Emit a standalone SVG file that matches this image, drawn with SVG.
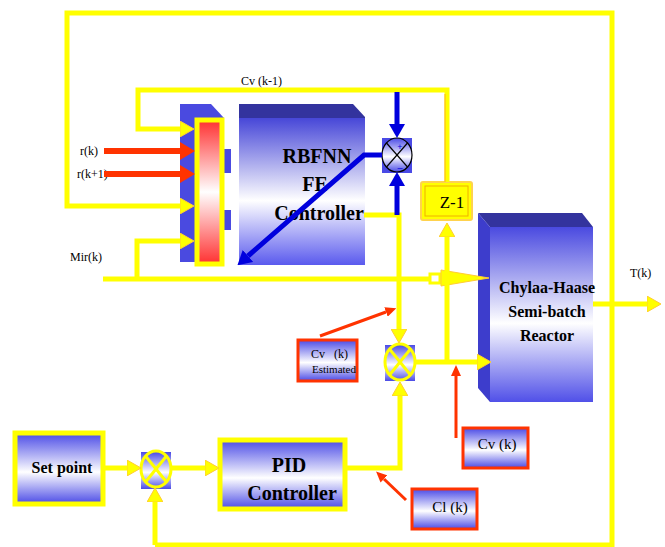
<svg xmlns="http://www.w3.org/2000/svg" width="665" height="547" viewBox="0 0 665 547">
<style>
.y{fill:none;stroke:#ffff00;stroke-width:5;stroke-linejoin:miter}
.r{fill:none;stroke:#ff3300;stroke-width:6}
.rt{fill:none;stroke:#ff3300;stroke-width:3}
.b{fill:none;stroke:#0000dd;stroke-width:5}
.ya{fill:#ffff00;stroke:#ffcc33;stroke-width:1}
.bold{font-weight:bold}
.tag{fill:url(#gBox);stroke:#ff3300;stroke-width:3}
.yb{fill:url(#gBox);stroke:#ffff00;stroke-width:5}
.jsq{fill:url(#gBox)}
</style>
<defs>
<linearGradient id="gBox" x1="0" y1="0" x2="0" y2="1">
<stop offset="0" stop-color="#4a4ae6"/>
<stop offset="0.55" stop-color="#ffffff"/>
<stop offset="1" stop-color="#4a4ae6"/>
</linearGradient>
<linearGradient id="gMain" x1="0" y1="0" x2="0" y2="1">
<stop offset="0" stop-color="#33339e"/>
<stop offset="0.085" stop-color="#33339e"/>
<stop offset="0.09" stop-color="#4848d8"/>
<stop offset="0.6" stop-color="#ffffff"/>
<stop offset="1" stop-color="#5a5aee"/>
</linearGradient>
<linearGradient id="gReac" x1="0" y1="0" x2="0" y2="1">
<stop offset="0" stop-color="#4a4ae0"/>
<stop offset="0.55" stop-color="#ffffff"/>
<stop offset="1" stop-color="#5050e8"/>
</linearGradient>
<linearGradient id="gRed" x1="0" y1="0" x2="0" y2="1">
<stop offset="0" stop-color="#ff3030"/>
<stop offset="0.5" stop-color="#ffffff"/>
<stop offset="1" stop-color="#ff3030"/>
</linearGradient>
<marker id="mY" markerUnits="userSpaceOnUse" viewBox="0 0 14 16" refX="0" refY="8" markerWidth="14" markerHeight="16" orient="auto">
<path d="M0,0 L14,8 L0,16 z" fill="#ffff00" stroke="#ffcc33" stroke-width="1"/>
</marker>
<marker id="mR" markerUnits="userSpaceOnUse" viewBox="0 0 15 18" refX="0" refY="9" markerWidth="15" markerHeight="18" orient="auto">
<path d="M0,0 L15,9 L0,18 z" fill="#ff3300"/>
</marker>
<marker id="mRt" markerUnits="userSpaceOnUse" viewBox="0 0 11 10" refX="0" refY="5" markerWidth="11" markerHeight="10" orient="auto">
<path d="M0,0 L11,5 L0,10 z" fill="#ff3300"/>
</marker>
<marker id="mB" markerUnits="userSpaceOnUse" viewBox="0 0 14 16" refX="0" refY="8" markerWidth="14" markerHeight="16" orient="auto">
<path d="M0,0 L14,8 L0,16 z" fill="#0000dd"/>
</marker>
</defs>
<rect width="665" height="547" fill="#ffffff"/>

<g font-family="Liberation Serif, Times New Roman, serif" fill="#000000">

<g id="input-layer">
<polygon points="180,104 211,104 224,118 224,262 180,262" fill="#4a4ae0"/>
<rect x="223" y="149" width="8" height="24" fill="#4a4ae0"/>
<rect x="223" y="210" width="8" height="20" fill="#4a4ae0"/>
<rect x="197" y="120" width="25" height="144" fill="url(#gRed)" stroke="#ffff00" stroke-width="5"/>
</g>

<g id="rbfnn">
<polygon points="239,104 353,104 365,117 365,265 239,265" fill="url(#gMain)"/>
<text class="bold" x="317" y="163" font-size="20" text-anchor="middle">RBFNN</text>
<text class="bold" x="315" y="191" font-size="20" text-anchor="middle">FE</text>
<text class="bold" x="319" y="220" font-size="20" text-anchor="middle">Controller</text>
</g>

<g id="sum-top">
<rect x="382" y="138" width="30" height="35" fill="#4a4ae6"/>
<ellipse cx="397" cy="155" rx="15" ry="17" fill="url(#gBox)" stroke="#000" stroke-width="1.2"/>
<line x1="386.5" y1="143" x2="407.5" y2="167" stroke="#000" stroke-width="1.2"/>
<line x1="407.5" y1="143" x2="386.5" y2="167" stroke="#000" stroke-width="1.2"/>
<text x="400" y="150" font-family="Liberation Sans, Arial, sans-serif" font-size="9" fill="#0000dd" text-anchor="middle">+</text>
<text x="400" y="171" font-family="Liberation Sans, Arial, sans-serif" font-size="9" fill="#0000dd" text-anchor="middle">–</text>
</g>

<g id="z1">
<rect x="421" y="182" width="51" height="38" rx="2" fill="#ffff00" stroke="#ffd24d" stroke-width="2"/>
<rect x="425" y="186" width="43" height="30" fill="none" stroke="#f0b000" stroke-width="1"/>
<text x="452" y="208" font-size="17" text-anchor="middle">Z-1</text>
</g>

<g id="reactor">
<polygon points="478,213 582,213 593,227 490,227" fill="#33339e"/>
<polygon points="478,213 490,227 490,402 478,388" fill="#3d3dcc"/>
<rect x="490" y="227" width="103" height="175" fill="url(#gReac)"/>
<text class="bold" x="547" y="293" font-size="16" text-anchor="middle">Chylaa-Haase</text>
<text class="bold" x="547" y="317" font-size="16" text-anchor="middle">Semi-batch</text>
<text class="bold" x="547" y="341" font-size="16" text-anchor="middle">Reactor</text>
</g>

<g id="sum-mid">
<rect x="385" y="345" width="30" height="36" class="jsq"/>
<ellipse cx="400" cy="362" rx="15" ry="18" fill="none" stroke="#ffff00" stroke-width="3"/>
<line x1="389.5" y1="349" x2="410.5" y2="375" stroke="#ffff00" stroke-width="3"/>
<line x1="410.5" y1="349" x2="389.5" y2="375" stroke="#ffff00" stroke-width="3"/>
</g>

<g id="sum-left">
<rect x="141" y="452" width="30" height="37" class="jsq"/>
<ellipse cx="156" cy="469" rx="15" ry="18" fill="none" stroke="#ffff00" stroke-width="3"/>
<line x1="145.5" y1="456" x2="166.5" y2="482" stroke="#ffff00" stroke-width="3"/>
<line x1="166.5" y1="456" x2="145.5" y2="482" stroke="#ffff00" stroke-width="3"/>
</g>

<g id="setpoint">
<rect x="15" y="433" width="88" height="71" class="yb"/>
<text class="bold" x="62" y="473" font-size="16" text-anchor="middle">Set point</text>
</g>

<g id="pid">
<rect x="220" y="440" width="125" height="69" class="yb"/>
<text class="bold" x="289" y="472" font-size="20" text-anchor="middle">PID</text>
<text class="bold" x="292" y="500" font-size="20" text-anchor="middle">Controller</text>
</g>

<g id="tag-cvest">
<rect x="298" y="340" width="59" height="41" class="tag"/>
<text x="311" y="358" font-size="12" xml:space="preserve">Cv   (k)</text>
<text x="312" y="373" font-size="11">Estimated</text>
</g>

<g id="tag-cvk">
<rect x="463" y="428" width="65" height="40" class="tag"/>
<text x="497" y="449" font-size="15" text-anchor="middle">Cv (k)</text>
</g>

<g id="tag-clk">
<rect x="412" y="489" width="65" height="40" class="tag"/>
<text x="450" y="512" font-size="15" text-anchor="middle">Cl (k)</text>
</g>

<g id="labels">
<text x="241" y="85" font-size="12">Cv (k-1)</text>
<text x="80" y="155" font-size="12">r(k)</text>
<text x="77" y="178" font-size="12">r(k+1)</text>
<text x="70" y="261" font-size="12">Mir(k)</text>
<text x="630" y="277" font-size="12">T(k)</text>
</g>

</g>

<g id="connectors">
<path class="y" d="M155,545 H612 V13 H67 V206 H180" marker-end="url(#mY)"/>
<path class="y" d="M155,545 V502" marker-end="url(#mY)"/>
<path class="y" d="M447,182 V90 H138 V129 H180" marker-end="url(#mY)"/>
<line x1="445" y1="94" x2="445" y2="182" stroke="#ffb020" stroke-width="1"/>
<path class="y" d="M103,279 H442"/>
<rect x="430" y="274" width="10" height="9" fill="#ffffff" stroke="#ffff00" stroke-width="3"/>
<polygon class="ya" points="441,270 489,278 441,286"/>
<path class="y" d="M137,279 V241 H180" marker-end="url(#mY)"/>
<path class="r" d="M104,151 H180" marker-end="url(#mR)"/>
<path class="r" d="M104,174 H180" marker-end="url(#mR)"/>
<path class="y" d="M364,215 H399 V329" marker-end="url(#mY)"/>
<path class="y" d="M345,468 H400 V396" marker-end="url(#mY)"/>
<path class="y" d="M415,362 H477" marker-end="url(#mY)"/>
<path class="y" d="M447,362 V237" marker-end="url(#mY)"/>
<path class="y" d="M593,304 H647" marker-end="url(#mY)"/>
<path class="y" d="M103,468 H127" marker-end="url(#mY)"/>
<path class="y" d="M171,468 H205" marker-end="url(#mY)"/>
<path class="b" d="M397,92 V124" marker-end="url(#mB)"/>
<path class="b" d="M397,215 V186" marker-end="url(#mB)"/>
<path class="b" d="M382,155 H364 L248,256" marker-end="url(#mB)"/>
<path class="rt" d="M320,336 L386,312" marker-end="url(#mRt)"/>
<path class="rt" d="M456,438 V376" marker-end="url(#mRt)"/>
<path class="rt" d="M406,500 L384,479" marker-end="url(#mRt)"/>
</g>
</svg>
